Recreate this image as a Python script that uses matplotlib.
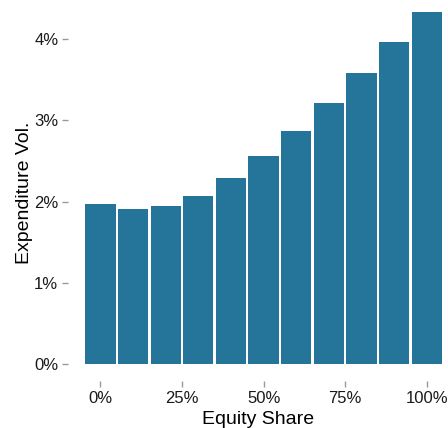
import matplotlib
matplotlib.use("Agg")
import matplotlib.pyplot as plt
from matplotlib.ticker import FuncFormatter

# equity share (%) and expenditure volatility (%)
equity_share = [0, 10, 20, 30, 40, 50, 60, 70, 80, 90, 100]
expenditure_vol = [1.97, 1.91, 1.94, 2.07, 2.29, 2.56, 2.87, 3.21, 3.58, 3.96, 4.33]
x_ticks = [0, 25, 50, 75, 100]
y_ticks = [0, 1, 2, 3, 4]

plt.rcParams['font.family'] = ['Liberation Sans', 'DejaVu Sans']

fig = plt.figure(figsize=(4.48, 4.28), dpi=100)
ax = fig.add_axes([0.152, 0.11, 0.848, 0.878])
ax.bar(equity_share, expenditure_vol, width=9.3, color="#25749a")

ax.set_xlim(-9.9, 106.5)
ax.set_ylim(-0.21, 4.42)
ax.set_xticks(x_ticks)
ax.set_yticks(y_ticks)
pct = FuncFormatter(lambda v, _: f"{v:.0f}%")
ax.xaxis.set_major_formatter(pct)
ax.yaxis.set_major_formatter(pct)

for s in ax.spines.values():
    s.set_visible(False)
ax.tick_params(length=4, width=1, color="#999999", labelsize=12,
               labelcolor="#1a1a1a", pad=3)
ax.set_xlabel("Equity Share", fontsize=14, labelpad=4)
ax.set_ylabel("Expenditure Vol.", fontsize=14, labelpad=1)

fig.savefig("out.png", dpi=100)
